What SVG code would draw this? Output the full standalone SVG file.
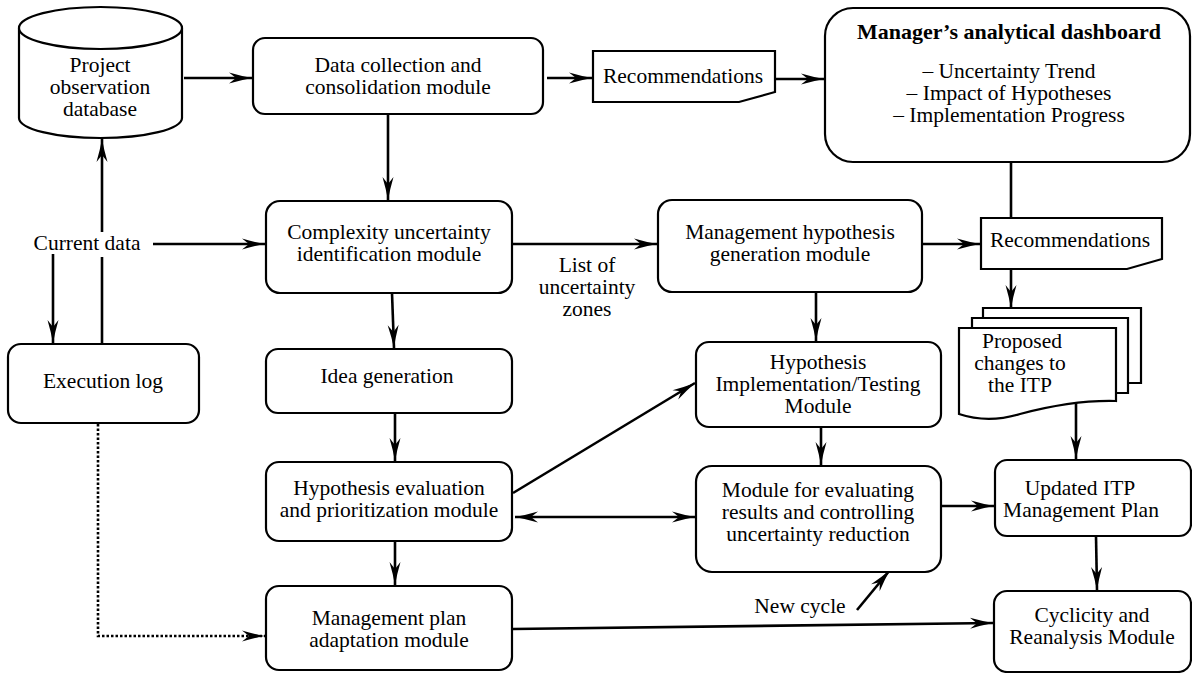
<svg xmlns="http://www.w3.org/2000/svg" width="1192" height="673" viewBox="0 0 1192 673" font-family="'Liberation Serif', 'Times New Roman', 'DejaVu Serif', serif">
<style>
.b{fill:#fff;stroke:#000;stroke-width:2.2}
.t{font-family:'Liberation Serif','Times New Roman','DejaVu Serif',serif;font-size:21.5px;fill:#000;text-anchor:middle}
.tb{font-weight:bold;font-size:22px}
.c{fill:none;stroke:#000;stroke-width:2.6}
.d{fill:none;stroke:#000;stroke-width:2.6;stroke-dasharray:2.5 2}
</style>
<defs>
<marker id="a" markerUnits="userSpaceOnUse" markerWidth="28" markerHeight="14" viewBox="-24 -7 26 14" refX="0" refY="0" orient="auto-start-reverse">
<path d="M-23,-5.5 Q-11,-2 0,0 Q-11,2 -23,5.5 L-16,0 Z" fill="#000"/>
</marker>
</defs>
<rect width="1192" height="673" fill="#fff"/>

<g id="connectors">
<path class="c" d="M184,78 H252" marker-end="url(#a)"/>
<path class="c" d="M547,78 H592" marker-end="url(#a)"/>
<path class="c" d="M776,79 H824" marker-end="url(#a)"/>
<path class="c" d="M1011,162 V217"/>
<path class="c" d="M388,114 V200" marker-end="url(#a)"/>
<path class="c" d="M153,244 H265" marker-end="url(#a)"/>
<path class="c" d="M513,244 H657" marker-end="url(#a)"/>
<path class="c" d="M923,244 H980" marker-end="url(#a)"/>
<path class="c" d="M1011,269 V308" marker-end="url(#a)"/>
<path class="c" d="M53,254 V343" marker-end="url(#a)"/>
<path class="c" d="M102,343 V257"/>
<path class="c" d="M102,232 V139" marker-end="url(#a)"/>
<path class="c" d="M392,293 L394,348" marker-end="url(#a)"/>
<path class="c" d="M395,413 V461" marker-end="url(#a)"/>
<path class="c" d="M816,292 V341" marker-end="url(#a)"/>
<path class="c" d="M513,493 L695,383" marker-end="url(#a)"/>
<path class="c" d="M515,517 H695" marker-start="url(#a)" marker-end="url(#a)"/>
<path class="c" d="M821,427 V465" marker-end="url(#a)"/>
<path class="c" d="M1076,402 V459" marker-end="url(#a)"/>
<path class="c" d="M942,506 H994" marker-end="url(#a)"/>
<path class="c" d="M1096,536 L1097,590" marker-end="url(#a)"/>
<path class="c" d="M395,541 V585" marker-end="url(#a)"/>
<path class="c" d="M513,629 L993,623" marker-end="url(#a)"/>
<path class="c" d="M857,610 L890,570" marker-end="url(#a)"/>
<path class="d" d="M98,424 V636 H265" marker-end="url(#a)"/>
</g>

<g id="db">
<path class="b" d="M19,28 A81.5,21 0 0,1 182,28 V118 A81.5,20 0 0,1 19,118 Z"/>
<path class="b" d="M19,28 A81.5,21 0 0,0 182,28" fill="none"/>
<text class="t" x="100" y="72">Project</text>
<text class="t" x="100" y="94">observation</text>
<text class="t" x="100" y="116">database</text>
</g>

<g id="collect">
<rect class="b" x="253" y="38" width="290" height="76" rx="12"/>
<text class="t" x="398" y="72">Data collection and</text>
<text class="t" x="398" y="94">consolidation module</text>
</g>

<g id="rec1">
<path class="b" d="M593,51 H775 V92 L739,102 H593 Z"/>
<text class="t" x="683" y="83">Recommendations</text>
</g>

<g id="dashboard">
<rect class="b" x="825" y="8" width="365" height="154" rx="28"/>
<text class="t tb" x="1009" y="39">Manager’s analytical dashboard</text>
<text class="t" x="1009" y="78">– Uncertainty Trend</text>
<text class="t" x="1009" y="100">– Impact of Hypotheses</text>
<text class="t" x="1009" y="122">– Implementation Progress</text>
</g>

<g id="current">
<text class="t" x="87" y="250">Current data</text>
</g>

<g id="complexity">
<rect class="b" x="266" y="201" width="246" height="92" rx="14"/>
<text class="t" x="389" y="239">Complexity uncertainty</text>
<text class="t" x="389" y="261">identification module</text>
</g>

<g id="zones">
<text class="t" x="587" y="272">List of</text>
<text class="t" x="587" y="294">uncertainty</text>
<text class="t" x="587" y="316">zones</text>
</g>

<g id="mhyp">
<rect class="b" x="658" y="200" width="264" height="92" rx="14"/>
<text class="t" x="790" y="239">Management hypothesis</text>
<text class="t" x="790" y="261">generation module</text>
</g>

<g id="rec2">
<path class="b" d="M981,218 H1162 V259 L1127,269 H981 Z"/>
<text class="t" x="1070" y="247">Recommendations</text>
</g>

<g id="proposed">
<path class="b" d="M983,308 H1141 V383 H983 Z"/>
<path class="b" d="M972,318 H1128 V393 H972 Z"/>
<path class="b" d="M959,328 H1116 V401 C1080,400 1050,406 1020,414 C1000,420 980,421 959,414 Z"/>
<text class="t" x="1022" y="348">Proposed</text>
<text class="t" x="1020" y="370">changes to</text>
<text class="t" x="1020" y="392">the ITP</text>
</g>

<g id="execlog">
<rect class="b" x="8" y="344" width="191" height="79" rx="13"/>
<text class="t" x="103" y="388">Execution log</text>
</g>

<g id="idea">
<rect class="b" x="266" y="349" width="246" height="64" rx="12"/>
<text class="t" x="387" y="383">Idea generation</text>
</g>

<g id="himpl">
<rect class="b" x="696" y="342" width="245" height="85" rx="13"/>
<text class="t" x="818" y="369">Hypothesis</text>
<text class="t" x="818" y="391">Implementation/Testing</text>
<text class="t" x="818" y="413">Module</text>
</g>

<g id="heval">
<rect class="b" x="266" y="462" width="246" height="79" rx="13"/>
<text class="t" x="389" y="495">Hypothesis evaluation</text>
<text class="t" x="389" y="517">and prioritization module</text>
</g>

<g id="meval">
<rect class="b" x="696" y="466" width="245" height="106" rx="16"/>
<text class="t" x="818" y="497">Module for evaluating</text>
<text class="t" x="818" y="519">results and controlling</text>
<text class="t" x="818" y="541">uncertainty reduction</text>
</g>

<g id="updated">
<rect class="b" x="995" y="460" width="196" height="76" rx="12"/>
<text class="t" x="1080" y="495">Updated ITP</text>
<text class="t" x="1081" y="517">Management Plan</text>
</g>

<g id="newcycle">
<text class="t" x="800" y="613">New cycle</text>
</g>

<g id="adapt">
<rect class="b" x="266" y="586" width="246" height="84" rx="13"/>
<text class="t" x="389" y="625">Management plan</text>
<text class="t" x="389" y="647">adaptation module</text>
</g>

<g id="cyclic">
<rect class="b" x="994" y="591" width="197" height="81" rx="13"/>
<text class="t" x="1092" y="622">Cyclicity and</text>
<text class="t" x="1092" y="644">Reanalysis Module</text>
</g>
</svg>
